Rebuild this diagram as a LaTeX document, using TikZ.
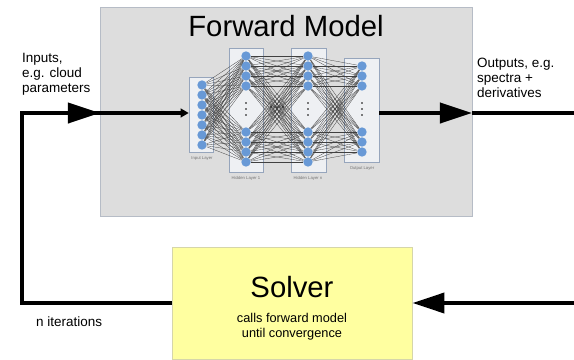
\documentclass[tikz,border=0pt]{standalone}
\usepackage{fontspec}
\setmainfont{Liberation Sans}
\usepackage{tikz}
\usetikzlibrary{arrows.meta}
\definecolor{fwdfill}{RGB}{221,221,221}
\definecolor{fwdline}{RGB}{182,188,198}
\definecolor{layerfill}{RGB}{238,240,243}
\definecolor{layerline}{RGB}{150,165,188}
\definecolor{neuron}{RGB}{104,153,214}
\definecolor{solverfill}{RGB}{255,255,160}
\definecolor{solverline}{RGB}{214,214,170}
\tikzset{
	fwd box/.style={rectangle,draw=fwdline,fill=fwdfill,line width=0.8pt,
		minimum width=11.16cm,minimum height=6.27cm},
	solver box/.style={rectangle,draw=solverline,fill=solverfill,line width=0.8pt,
		minimum width=7.2cm,minimum height=3.36cm},
	layer/.style={rectangle,draw=layerline,fill=layerfill,line width=0.5pt},
	main node/.style={circle,fill=neuron,minimum size=0.28cm,inner sep=0pt},
	synapse/.style={draw=black!75,line width=0.25pt},
	flow/.style={line width=3.4pt},
	layer label/.style={font=\fontsize{3.6}{4}\selectfont,text=black!55},
	side text/.style={align=left,inner sep=0pt,font=\fontsize{11.5}{12.8}\selectfont},
	big title/.style={font=\fontsize{25}{30}\selectfont}
}

\begin{document}
\begin{tikzpicture}[x=0.03cm,y=-0.03cm,
	    >={Triangle[length=0.96cm,width=0.6cm]}]
	    \useasboundingbox (0,0) rectangle (574,360);
	    \node [fwd box] (fwd) at (286,111.5) {};
	    \node [big title] (fwdtitle) at (286,26) {Forward Model};
	    % layers
	    \node [layer,minimum width=0.72cm,minimum height=2.25cm] (inbox) at (201,114.5) {};
	    \node [layer,minimum width=1.02cm,minimum height=3.72cm] (h1box) at (246,110) {};
	    \node [layer,minimum width=1.05cm,minimum height=3.72cm] (hnbox) at (308.5,110) {};
	    \node [layer,minimum width=1.05cm,minimum height=3.12cm] (outbox) at (361.5,110) {};
	    \foreach \n in {1,...,7}
	      \node [main node] (i\n) at (202,{75+10*\n}) {};
	    \foreach \n/\y in {1/56,2/66,3/76,4/86,5/132,6/142,7/152,8/162} {
	      \node [main node] (a\n) at (246,\y) {};
	      \node [main node] (b\n) at (308,\y) {};
	    }
	    \foreach \n/\y in {1/66,2/76,3/86,4/132,5/142,6/152}
	      \node [main node] (o\n) at (362,\y) {};
	    \foreach \i in {1,...,7}
	      \foreach \j in {1,...,8}
	        \draw [synapse] (i\i) -- (a\j);
	    \foreach \i in {1,...,8}
	      \foreach \j in {1,...,8}
	        \draw [synapse] (a\i) -- (b\j);
	    \foreach \i in {1,...,8}
	      \foreach \j in {1,...,6}
	        \draw [synapse] (b\i) -- (o\j);
	    \foreach \x in {246,308,362}
	      \foreach \y in {103,109,115}
	        \fill (\x,\y) circle (0.65pt);
	    \foreach \x in {271,277,283}
	      \fill (\x,107) circle (0.65pt);
	    \node [layer label] (inlabel) at (202,158) {Input Layer};
	    \node [layer label] (h1label) at (246,178) {Hidden Layer 1};
	    \node [layer label] (hnlabel) at (308,178) {Hidden Layer n};
	    \node [layer label] (outlabel) at (362,168) {Output Layer};
	    % solver
	    \node [solver box] (solver) at (292,303) {};
	    \node [big title] (solvertitle) at (292,287) {Solver};
	    \node [align=center,font=\fontsize{10.9}{12.6}\selectfont] (solvertext) at (292,327)
	      {calls forward model\\ until convergence};
	    % loop
	    \coordinate (inpt) at (100,113);
	    \coordinate (outpt) at (472,113);
	    \coordinate (c1) at (22,113);
	    \coordinate (c2) at (22,303);
	    \coordinate (rtop) at (574,113);
	    \coordinate (rbot) at (574,303);
	    \draw [flow,line join=miter] (solver.west) -- (c2) -- (c1) -- (inpt);
	    \draw [flow,->] (c1) -- (inpt);
	    \draw [flow,-{Triangle[length=0.24cm,width=0.26cm]}] (inpt) -- (inbox.west |- inpt);
	    \draw [flow,->] (outbox.east |- outpt) -- (outpt);
	    \draw [flow] (outpt) -- (rtop);
	    \draw [flow,->] (rbot) -- (solver.east);
	    \node [side text,anchor=north west] (intext) at (22,53) {Inputs,\\ e.g. cloud\\ parameters};
	    \node [side text,anchor=north west] (outtext) at (477,58) {Outputs, e.g.\\ spectra +\\ derivatives};
	    \node [side text,anchor=west] (iters) at (36,322) {n iterations};
	  \end{tikzpicture}
\end{document}
